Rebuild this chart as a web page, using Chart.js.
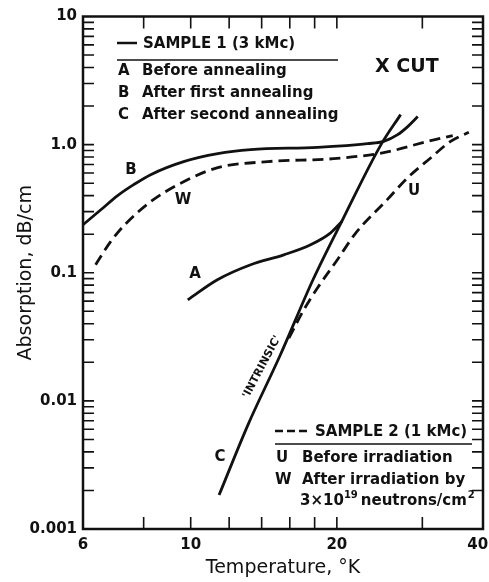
<!DOCTYPE html>
<html>
<head>
<meta charset="utf-8">
<script src="https://cdn.jsdelivr.net/npm/chart.js@4.4.0/dist/chart.umd.min.js"></script>
<style>
  html, body { margin: 0; padding: 0; background: #fff; }
  #wrap { width: 489px; height: 582px; }
</style>
</head>
<body>
<div id="wrap"><canvas id="chart"></canvas></div>
<script>
// temperature (K) / absorption (dB/cm)
const tempA = [9.86, 11.35, 13.29, 15.55, 17.66, 19.42, 20.5];
const absA  = [0.0615, 0.0882, 0.1155, 0.138, 0.1655, 0.205, 0.252];

const tempB = [6.0, 6.53, 7.07, 7.63, 8.27, 9.67, 11.37, 13.29, 18.26, 23.15, 24.98, 26.69, 27.99, 29.35];
const absB  = [0.237, 0.31, 0.40, 0.487, 0.583, 0.737, 0.851, 0.914, 0.953, 1.018, 1.061, 1.197, 1.382, 1.655];

const tempC = [11.44, 13.12, 15.27, 17.86, 20.56, 24.66, 27.07];
const absC  = [0.00184, 0.0065, 0.0225, 0.0882, 0.26, 1.0, 1.715];

const tempU = [15.93, 17.1, 18.24, 20.05, 21.87, 25.4, 27.96, 31.2, 34.3, 37.4];
const absU  = [0.0309, 0.0514, 0.076, 0.1264, 0.204, 0.372, 0.55, 0.787, 1.06, 1.248];

const tempW = [6.37, 6.84, 7.35, 8.27, 9.67, 11.37, 14.41, 19.7, 24.98, 31.2, 34.65];
const absW  = [0.1155, 0.175, 0.2415, 0.3586, 0.514, 0.661, 0.737, 0.777, 0.866, 1.075, 1.176];

const xLabelTicks = [6, 10, 20, 40];
const xMarkTicks = [8, 10, 12, 14, 16, 18, 20, 30];
const yLabelTicks = [0.001, 0.01, 0.1, 1, 10];
const yLabelText = ['0.001', '0.01', '0.1', '1.0', '10'];
const yMarkSteps = [1, 2, 3, 4, 5, 6, 7, 8, 9];

const FONT = 'DejaVu Sans';
const INK = '#111';

function pts(xs, ys) {
  return xs.map((x, i) => ({ x: x, y: ys[i] }));
}

function curve(xs, ys, dashed) {
  return {
    data: pts(xs, ys),
    showLine: true,
    borderColor: INK,
    borderWidth: 2.8,
    borderDash: dashed ? [11, 6] : [],
    pointRadius: 0,
    cubicInterpolationMode: 'monotone',
    fill: false
  };
}

function txt(ctx, s, x, y, size, weight, align) {
  ctx.font = (weight || 'bold') + ' ' + size + 'px "' + FONT + '"';
  ctx.textAlign = align || 'left';
  ctx.textBaseline = 'middle';
  ctx.fillText(s, x, y);
  return ctx.measureText(s).width;
}

// no extra room for the edge labels, the box fills the page like the original
function noEdgePad(s) {
  s.paddingLeft = 0; s.paddingRight = 0;
  s.paddingTop = 0; s.paddingBottom = 0;
}

const framePlugin = {
  id: 'frame',
  afterDraw(chart) {
    const { ctx, chartArea: a, scales: { x, y } } = chart;
    ctx.save();
    ctx.strokeStyle = INK;
    ctx.fillStyle = INK;

    // box + inward ticks
    ctx.lineWidth = 2.5;
    ctx.strokeRect(a.left, a.top, a.right - a.left, a.bottom - a.top);
    ctx.lineWidth = 1.6;
    ctx.beginPath();
    xMarkTicks.forEach(v => {
      const px = x.getPixelForValue(v);
      ctx.moveTo(px, a.bottom); ctx.lineTo(px, a.bottom - 12);
      ctx.moveTo(px, a.top); ctx.lineTo(px, a.top + 12);
    });
    for (let d = -3; d < 1; d++) {
      yMarkSteps.forEach(s => {
        const py = y.getPixelForValue(s * Math.pow(10, d));
        ctx.moveTo(a.left, py); ctx.lineTo(a.left + 11, py);
        ctx.moveTo(a.right, py); ctx.lineTo(a.right - 11, py);
      });
    }
    ctx.stroke();

    // sample 1 key
    ctx.lineWidth = 2.5;
    ctx.beginPath(); ctx.moveTo(117, 43); ctx.lineTo(137, 43); ctx.stroke();
    txt(ctx, 'SAMPLE 1 (3 kMc)', 143, 44, 15);
    ctx.lineWidth = 1.5;
    ctx.beginPath(); ctx.moveTo(117, 60); ctx.lineTo(338, 60); ctx.stroke();
    txt(ctx, 'A', 118, 71, 15);
    txt(ctx, 'Before annealing', 142, 71, 15);
    txt(ctx, 'B', 118, 93, 15);
    txt(ctx, 'After first annealing', 142, 93, 15);
    txt(ctx, 'C', 118, 115, 15);
    txt(ctx, 'After second annealing', 142, 115, 15);
    txt(ctx, 'X CUT', 375, 67, 19);

    // sample 2 key
    ctx.lineWidth = 2.5;
    ctx.setLineDash([8, 4]);
    ctx.beginPath(); ctx.moveTo(275, 431); ctx.lineTo(307, 431); ctx.stroke();
    ctx.setLineDash([]);
    txt(ctx, 'SAMPLE 2 (1 kMc)', 315, 432, 15);
    ctx.lineWidth = 1.5;
    ctx.beginPath(); ctx.moveTo(275, 444); ctx.lineTo(472, 444); ctx.stroke();
    txt(ctx, 'U', 276, 458, 15);
    txt(ctx, 'Before irradiation', 302, 458, 15);
    txt(ctx, 'W', 275, 480, 15);
    txt(ctx, 'After irradiation by', 302, 480, 15);
    let cx = 300;
    cx += txt(ctx, '3×10', cx, 501, 15);
    cx += txt(ctx, '19', cx, 495, 10) + 3;
    cx += txt(ctx, 'neutrons/cm', cx, 501, 15);
    txt(ctx, '2', cx + 1, 495, 10);

    // curve labels
    txt(ctx, 'B', 131, 170, 15, 'bold', 'center');
    txt(ctx, 'W', 183, 200, 15, 'bold', 'center');
    txt(ctx, 'A', 195, 274, 15, 'bold', 'center');
    txt(ctx, 'C', 220, 457, 15, 'bold', 'center');
    txt(ctx, 'U', 414, 191, 15, 'bold', 'center');

    ctx.translate(262, 367);
    ctx.rotate(-62 * Math.PI / 180);
    txt(ctx, "'INTRINSIC'", 0, 0, 11, 'bold', 'center');
    ctx.restore();
  }
};

new Chart(document.getElementById('chart'), {
  type: 'scatter',
  data: {
    datasets: [
      curve(tempA, absA, false),
      curve(tempB, absB, false),
      curve(tempC, absC, false),
      curve(tempU, absU, true),
      curve(tempW, absW, true)
    ]
  },
  options: {
    responsive: true,
    maintainAspectRatio: false,
    animation: false,
    events: [],
    layout: { autoPadding: false, padding: { top: 16.5, right: 6, left: 0, bottom: 0 } },
    plugins: { legend: { display: false }, tooltip: { enabled: false } },
    scales: {
      x: {
        type: 'logarithmic',
        min: 6,
        max: 40,
        afterBuildTicks: s => { s.ticks = xLabelTicks.map(v => ({ value: v })); },
        afterFit: s => { s.height = 53; noEdgePad(s); },
        grid: { display: false, drawTicks: false },
        border: { display: false },
        ticks: {
          autoSkip: false, maxRotation: 0, padding: 7, color: INK,
          font: { family: FONT, size: 15, weight: 'bold' },
          // last label sits a little inside the edge, as in the original
          callback: v => v === 40 ? '40\u2007' : String(v)
        },
        title: {
          display: true, text: 'Temperature, °K', color: INK,
          font: { family: FONT, size: 19 }, padding: { top: 0, bottom: 3 }
        }
      },
      y: {
        type: 'logarithmic',
        min: 0.001,
        max: 10,
        afterBuildTicks: s => { s.ticks = yLabelTicks.map(v => ({ value: v })); },
        afterFit: s => { s.width = 83; noEdgePad(s); },
        grid: { display: false, drawTicks: false },
        border: { display: false },
        ticks: {
          autoSkip: false, padding: 6, color: INK,
          font: { family: FONT, size: 15, weight: 'bold' },
          callback: v => yLabelText[yLabelTicks.indexOf(v)]
        },
        title: {
          display: true, text: 'Absorption, dB/cm', color: INK,
          font: { family: FONT, size: 19 }, padding: { top: 15, bottom: 0 }
        }
      }
    }
  },
  plugins: [framePlugin]
});
</script>
</body>
</html>
